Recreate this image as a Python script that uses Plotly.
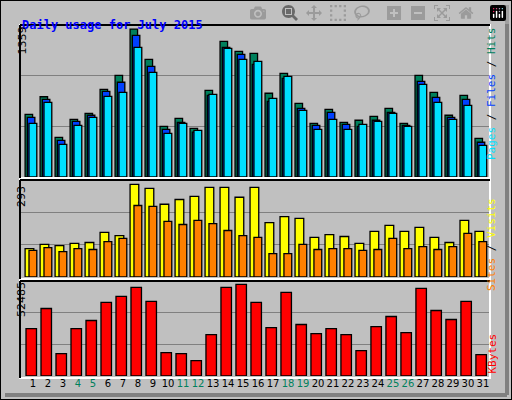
import plotly.graph_objects as go

days = list(range(1, 32))
weekend = [4, 5, 11, 12, 18, 19, 25, 26]

hits = [576, 737, 364, 530, 585, 805, 934, 1359, 1081, 465, 539, 447, 796, 1246, 1154, 1136,
        769, 952, 677, 493, 622, 502, 521, 557, 631, 493, 934, 778, 567, 750, 355]
files = [548, 713, 337, 511, 567, 787, 870, 1301, 1016, 438, 502, 413, 750, 1191, 1127, 1035,
         695, 906, 631, 475, 594, 484, 465, 521, 594, 475, 879, 732, 548, 713, 319]
pages = [493, 686, 300, 475, 548, 741, 778, 1191, 961, 401, 493, 429, 759, 1182, 1081, 1062,
         723, 925, 612, 438, 530, 438, 484, 511, 585, 465, 851, 686, 530, 658, 291]
visits = [90, 103, 99, 106, 109, 141, 131, 293, 280, 230, 245, 255, 283, 283, 252, 283,
          172, 191, 185, 125, 134, 128, 106, 144, 163, 144, 157, 125, 109, 179, 144]
sites = [84, 93, 80, 90, 87, 112, 122, 226, 223, 176, 166, 179, 169, 147, 131, 125,
         74, 74, 103, 87, 90, 90, 84, 87, 122, 90, 96, 87, 96, 138, 112]
kbytes = [27200, 38694, 12834, 27200, 31798, 42142, 45590, 50761, 42716, 13409, 12834, 8812,
          23753, 50761, 52485, 42142, 27775, 47889, 29499, 24327, 27200, 23753, 14558, 28350,
          34097, 24902, 50187, 37544, 32373, 42716, 12259]

W, H = 512, 400
def px(x): return x / W
def py(y): return 1 - y / H

line = dict(color="black", width=1.3)
fig = go.Figure()
def bar(y, color, off, wid, ax):
    fig.add_trace(go.Bar(x=days, y=y, offset=off, width=wid, marker=dict(color=color, line=line),
                         xaxis="x" + ax, yaxis="y" + ax, showlegend=False, hoverinfo="y"))

bar(hits, "#00805c", -0.53, 0.5, "")
bar(files, "#0040ff", -0.38, 0.5, "")
bar(pages, "#00e0ff", -0.27, 0.52, "")
bar(visits, "#ffff00", -0.53, 0.58, "2")
bar(sites, "#ff8000", -0.27, 0.52, "2")
bar(kbytes, "#ff0000", -0.47, 0.7, "3")

xd = [px(20), px(490)]
xr = [0.13, 31.47]
ticktext = [("<span style='color:#00805c'>%d</span>" % d) if d in weekend else str(d) for d in days]
common_x = dict(domain=xd, range=xr, showgrid=False, zeroline=False)
fig.update_layout(
    width=W, height=H, margin=dict(l=0, r=0, t=0, b=0),
    paper_bgcolor="#c0c0c0", plot_bgcolor="#c0c0c0", barmode="overlay",
    font=dict(family="DejaVu Sans", color="black", size=11),
    xaxis=dict(**common_x, anchor="y", showticklabels=False),
    xaxis2=dict(**common_x, anchor="y2", showticklabels=False),
    xaxis3=dict(**common_x, anchor="y3", tickvals=days, ticktext=ticktext, ticks="",
                tickangle=0, tickfont=dict(size=10, family="DejaVu Sans")),
)
for ax, dom, mx in [("yaxis", [py(177), py(25)], 1396), ("yaxis2", [py(277), py(180)], 306.6),
                    ("yaxis3", [py(376), py(281)], 54440)]:
    fig.layout[ax] = dict(domain=dom, range=[0, mx], tickvals=[mx / 3, 2 * mx / 3],
                          showticklabels=False, gridcolor="#808080", gridwidth=1.3,
                          zeroline=False, anchor="x" + ax[5:])

shapes = []
# panel frames
for y0, y1 in [(25, 178), (180, 279), (281, 378)]:
    shapes.append(dict(type="rect", xref="paper", yref="paper", x0=px(20), x1=px(490),
                       y0=py(y1), y1=py(y0), line=dict(color="white", width=2)))
    shapes.append(dict(type="line", xref="paper", yref="paper", x0=px(20), x1=px(490),
                       y0=py(y0), y1=py(y0), line=dict(color="black", width=2)))
    shapes.append(dict(type="line", xref="paper", yref="paper", x0=px(20), x1=px(20),
                       y0=py(y1), y1=py(y0), line=dict(color="black", width=2)))
# outer border
shapes.append(dict(type="rect", xref="paper", yref="paper", x0=0, x1=1, y0=0, y1=1,
                   line=dict(color="black", width=2)))
shapes.append(dict(type="line", xref="paper", yref="paper", x0=px(507), x1=px(507),
                   y0=py(395), y1=py(5), line=dict(color="#808080", width=4)))
shapes.append(dict(type="line", xref="paper", yref="paper", x0=px(5), x1=px(507),
                   y0=py(395), y1=py(395), line=dict(color="#808080", width=4)))
fig.update_layout(shapes=shapes)

mono = "DejaVu Sans Mono"
ann = [
    dict(x=px(20), y=py(16), text="<b>Daily usage for July 2015</b>", xanchor="left",
         font=dict(family=mono, size=12, color="#0000ff")),
    dict(x=px(13), y=py(25), text="1359", textangle=-90, yanchor="top"),
    dict(x=px(13), y=py(184), text="293", textangle=-90, yanchor="top"),
    dict(x=px(13), y=py(280), text="52485", textangle=-90, yanchor="top"),
    dict(x=px(500), y=py(25), yanchor="top", textangle=-90, font=dict(family=mono, size=11),
         text="<span style='color:#00e0ff'>Pages</span> / <span style='color:#0040ff'>Files</span>"
              " / <span style='color:#00805c'>Hits</span>"),
    dict(x=px(500), y=py(196), yanchor="top", textangle=-90, font=dict(family=mono, size=11),
         text="<span style='color:#ff8000'>Sites</span> / <span style='color:#ffff00'>Visits</span>"),
    dict(x=px(500), y=py(376), yanchor="bottom", textangle=-90, font=dict(family=mono, size=11, color="#ff0000"),
         text="KBytes"),
]
for a in ann:
    a.update(xref="paper", yref="paper", showarrow=False)
fig.update_layout(annotations=ann)

fig.write_html("out.html", post_script="document.body.style.margin='0';")
